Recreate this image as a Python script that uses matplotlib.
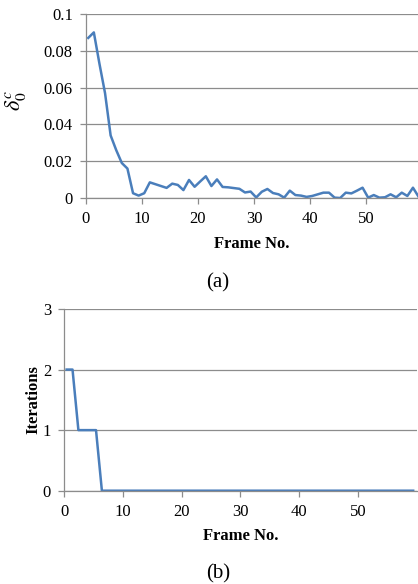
import numpy as np
import matplotlib
matplotlib.use("Agg")
import matplotlib.pyplot as plt

# frame numbers (points sit a little right of the integer ticks in the source)
frames = np.arange(60) + 0.4

delta = [0.087, 0.090, 0.073, 0.057, 0.034, 0.026, 0.019, 0.016, 0.0026, 0.0013,
         0.0026, 0.0085, 0.0075, 0.0065, 0.0055, 0.0078, 0.0071, 0.0043, 0.0098, 0.0061,
         0.0090, 0.0118, 0.0065, 0.0101, 0.0060, 0.0058, 0.0054, 0.0050, 0.0030, 0.0035,
         0.0003, 0.0034, 0.0049, 0.0027, 0.0020, 0.0002, 0.0040, 0.0016, 0.0013, 0.0006,
         0.0011, 0.0020, 0.0029, 0.0029, 0.0002, 0.0000, 0.0029, 0.0025, 0.0040, 0.0056,
         0.0002, 0.0016, 0.0002, 0.0004, 0.0020, 0.0004, 0.0029, 0.0011, 0.0056, 0.0007]

iterations = [2, 2, 1, 1, 1, 1] + [0] * 54

yticks_a = [0, 0.02, 0.04, 0.06, 0.08, 0.1]
yticklabels_a = ["0", "0.02", "0.04", "0.06", "0.08", "0.1"]
yticks_b = [0, 1, 2, 3]
xticks = [0, 10, 20, 30, 40, 50]

plt.rcParams['font.family'] = ['Liberation Serif', 'DejaVu Serif']
plt.rcParams['mathtext.fontset'] = 'stix'

W, H = 418, 584
fig = plt.figure(figsize=(W / 100, H / 100), dpi=100)

line_col = '#4a7ebb'
grid_col = '#8c8c8c'


def style(ax):
    for s in ['top', 'right']:
        ax.spines[s].set_visible(False)
    for s in ['left', 'bottom']:
        ax.spines[s].set_color(grid_col)
        ax.spines[s].set_linewidth(0.9)
    ax.tick_params(axis='both', direction='out', length=4.5, width=0.9,
                   color=grid_col, labelsize=12, pad=5)
    ax.yaxis.grid(True, color=grid_col, linewidth=0.9)
    ax.set_axisbelow(True)
    ax.set_xticks(xticks)


# (a)
ax1 = fig.add_axes([86 / W, 1 - 198 / H, (418 - 86) / W, (198 - 14) / H])
ax1.plot(frames, delta, color=line_col, linewidth=1.8)
ax1.set_xlim(0, 59.3)
ax1.set_ylim(0, 0.1)
ax1.set_yticks(yticks_a)
ax1.set_yticklabels(yticklabels_a)
style(ax1)
ax1.set_xlabel('Frame No.', fontweight='bold', fontsize=12, labelpad=6)
ax1.set_ylabel(r'$\delta_0^c$', fontsize=16)
ax1.yaxis.set_label_coords(-0.175, 0.53)
fig.text(218 / W, 1 - 283 / H, '(a)', ha='center', va='center', fontsize=15)

# (b)
ax2 = fig.add_axes([64.3 / W, 1 - 490.7 / H, (416.7 - 64.3) / W, (490.7 - 309) / H])
ax2.plot(frames, iterations, color=line_col, linewidth=1.8)
ax2.set_xlim(0, 60)
ax2.set_ylim(0, 3)
ax2.set_yticks(yticks_b)
style(ax2)
ax2.set_xlabel('Frame No.', fontweight='bold', fontsize=12, labelpad=6)
ax2.set_ylabel('Iterations', fontweight='bold', fontsize=12, labelpad=1)
fig.text(218 / W, 1 - 574 / H, '(b)', ha='center', va='center', fontsize=15)

fig.savefig('out.png', dpi=100)
